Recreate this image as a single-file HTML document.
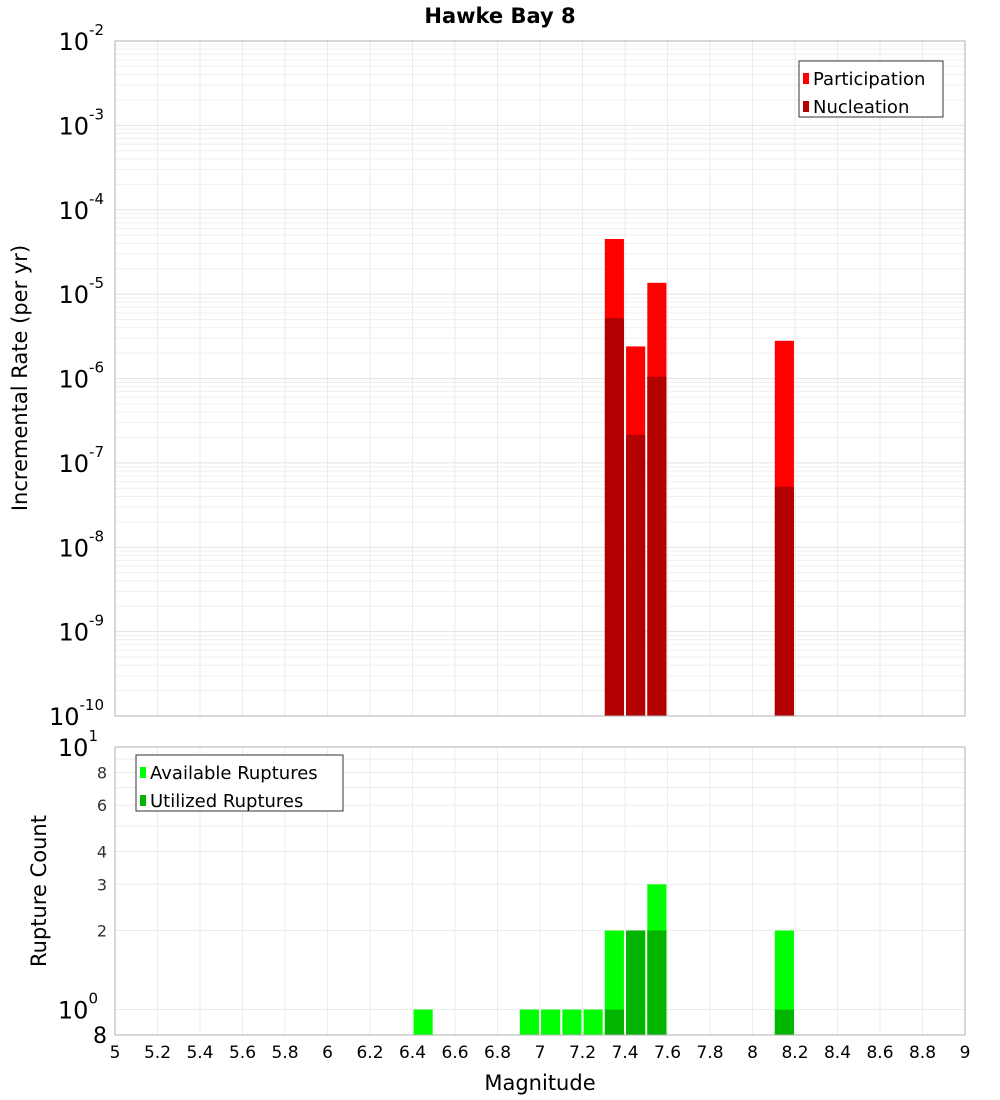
<!DOCTYPE html>
<html><head><meta charset="utf-8">
<style>
html,body{margin:0;padding:0;background:#fff;}
svg{display:block;font-family:"DejaVu Sans","Liberation Sans",sans-serif;}
</style></head>
<body>
<svg id="chart" width="1000" height="1100" viewBox="0 0 1000 1100" xmlns="http://www.w3.org/2000/svg">
<text x="500" y="23" text-anchor="middle" font-size="21" font-weight="bold">Hawke Bay 8</text>
<g id="topPlot"></g>
<g id="botPlot"></g>
<text transform="translate(27,378) rotate(-90)" text-anchor="middle" font-size="21">Incremental Rate (per yr)</text>
<text transform="translate(46,891) rotate(-90)" text-anchor="middle" font-size="21">Rupture Count</text>
<text x="540" y="1090" text-anchor="middle" font-size="21">Magnitude</text>
</svg>
<script>
const mags = [6.45, 6.95, 7.05, 7.15, 7.25, 7.35, 7.45, 7.55, 8.15];
const participation = [0, 0, 0, 0, 0, 4.5e-5, 2.4e-6, 1.36e-5, 2.8e-6];
const nucleation = [0, 0, 0, 0, 0, 5.2e-6, 2.15e-7, 1.05e-6, 5.2e-8];
const available = [1, 1, 1, 1, 1, 2, 2, 3, 2];
const utilized = [0, 0, 0, 0, 0, 1, 2, 2, 1];
const xTicks = [5,5.2,5.4,5.6,5.8,6,6.2,6.4,6.6,6.8,7,7.2,7.4,7.6,7.8,8,8.2,8.4,8.6,8.8,9];
const topExps = [-2,-3,-4,-5,-6,-7,-8,-9,-10];
const botSmallTicks = [2,3,4,6,8];

const NS = "http://www.w3.org/2000/svg";
const L = 115, R = 965;
const TT = 41, TB = 716, BT = 747, BB = 1035;
const xS = m => L + (m - 5) / 4 * (R - L);
const yTop = v => TT + (-2 - Math.log10(v)) / 8 * (TB - TT);
const yBot = v => BT + (1 - Math.log10(v)) / (1 - Math.log10(0.8)) * (BB - BT);
const binW = (R - L) / 40 * 0.9;

function mk(parent, tag, attrs, text) {
  const e = document.createElementNS(NS, tag);
  for (const k in attrs) e.setAttribute(k, attrs[k]);
  if (text !== undefined) e.textContent = text;
  parent.appendChild(e);
  return e;
}
const topG = document.getElementById('topPlot');
const botG = document.getElementById('botPlot');

for (let e = -10; e < -2; e++) {
  for (let k = 1; k <= 9; k++) {
    const y = yTop(k * Math.pow(10, e));
    const g = mk(topG, 'line', {x1: L, x2: R, y1: y, y2: y, stroke: k === 1 ? '#e2e2e2' : '#efefef', 'stroke-width': 1});
    
    
  }
}
xTicks.forEach(t => {
  const g = mk(topG, 'line', {x1: xS(t), x2: xS(t), y1: TT, y2: TB, stroke: '#ebebeb'});
  
  
  const g2 = mk(botG, 'line', {x1: xS(t), x2: xS(t), y1: BT, y2: BB, stroke: '#ebebeb'});
  
  
});
[1,2,3,4,5,6,7,8,9,10].forEach(v => {
  const g = mk(botG, 'line', {x1: L, x2: R, y1: yBot(v), y2: yBot(v), stroke: '#ebebeb'});
  
  
});

mags.forEach((m, i) => {
  const x = xS(m) - binW / 2;
  if (participation[i] > 0) {
    const y = yTop(participation[i]);
    const b = mk(topG, 'rect', {x: x, y: y, width: binW, height: TB - y, fill: '#ff0000'});
    
    
  }
  if (nucleation[i] > 0) {
    const y = yTop(nucleation[i]);
    const b = mk(topG, 'rect', {x: x, y: y, width: binW, height: TB - y, fill: '#b30000'});
    
    
  }
  if (available[i] > 0) {
    const y = yBot(available[i]);
    const b = mk(botG, 'rect', {x: x, y: y, width: binW, height: BB - y, fill: '#00ff00'});
    
    
  }
  if (utilized[i] > 0) {
    const y = yBot(utilized[i]);
    const b = mk(botG, 'rect', {x: x, y: y, width: binW, height: BB - y, fill: '#00b400'});
    
    
  }
});

let f = mk(topG, 'rect', {x: L, y: TT, width: R - L, height: TB - TT, fill: 'none', stroke: '#b0b0b0'});


f = mk(botG, 'rect', {x: L, y: BT, width: R - L, height: BB - BT, fill: 'none', stroke: '#b0b0b0'});



topExps.forEach(e => {
  const y = yTop(Math.pow(10, e));
  const t = mk(topG, 'text', {x: 104, y: y + 9, 'text-anchor': 'end', 'font-size': 24});
  
  
  mk(t, 'tspan', {}, '10');
  mk(t, 'tspan', {dy: -15, 'font-size': 15}, String(e));
});
[[10, '1'], [1, '0']].forEach(([v, ex]) => {
  const y = yBot(v);
  const t = mk(botG, 'text', {x: 98, y: y + 9, 'text-anchor': 'end', 'font-size': 24});
  
  
  mk(t, 'tspan', {}, '10');
  mk(t, 'tspan', {dy: -15, 'font-size': 15}, ex);
});
botSmallTicks.forEach(v => {
  const t = mk(botG, 'text', {x: 107, y: yBot(v) + 6, 'text-anchor': 'end', 'font-size': 16, fill: '#333'}, String(v));
  
  
});
let t8 = mk(botG, 'text', {x: 107, y: yBot(0.8) + 8, 'text-anchor': 'end', 'font-size': 22}, '8');



xTicks.forEach(tk => {
  const t = mk(botG, 'text', {x: xS(tk), y: 1058, 'text-anchor': 'middle', 'font-size': 17}, String(tk));
  
  
});

function legend(parent, x, y, w, items, name) {
  const g = mk(parent, 'g', {});
  
  
  mk(g, 'rect', {x: x, y: y, width: w, height: 56, fill: '#fff', stroke: '#333'});
  items.forEach((it, i) => {
    const cy = y + 18 + i * 28;
    const sw = mk(g, 'rect', {x: x + 4, y: cy - 6, width: 6, height: 11, fill: it[1]});
    
    
    const lt = mk(g, 'text', {x: x + 14, y: cy + 6, 'font-size': 18}, it[0]);
    
    
  });
}
legend(topG, 799, 61, 144, [['Participation', '#ff0000'], ['Nucleation', '#b30000']], 'top-legend');
legend(botG, 136, 755, 207, [['Available Ruptures', '#00ff00'], ['Utilized Ruptures', '#00b400']], 'bottom-legend');
</script>
</body></html>
